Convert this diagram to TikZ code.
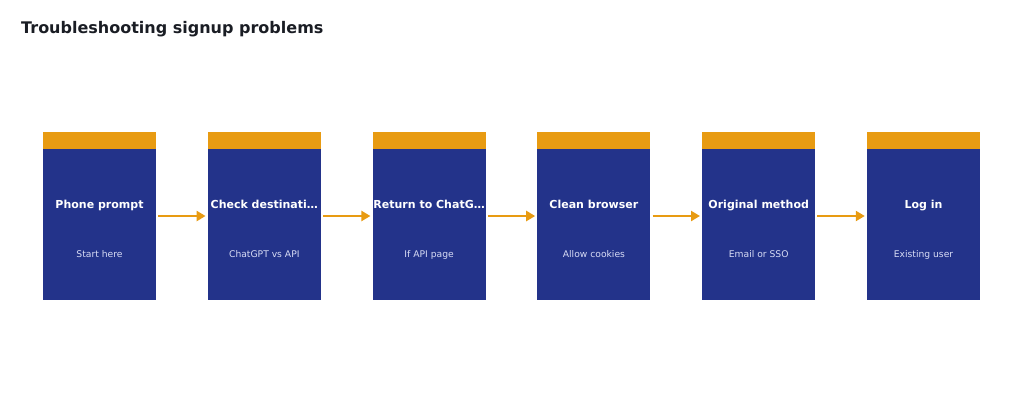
\documentclass[tikz,border=0pt]{standalone}
\usepackage{fontspec}
\setmainfont{DejaVu Sans}
\usetikzlibrary{arrows.meta}
\definecolor{navy}{HTML}{23338A}
\definecolor{amber}{HTML}{E89B12}
\definecolor{sub}{HTML}{D8DCF5}
\definecolor{ttl}{HTML}{1A1D24}
\begin{document}
\begin{tikzpicture}[x=1pt,y=-1pt,
  body/.style={fill=navy,draw=none,minimum width=113pt,minimum height=151pt,inner sep=0pt},
  topbar/.style={fill=amber,draw=none,minimum width=113pt,minimum height=17pt,inner sep=0pt},
  head/.style={text=white,anchor=base,inner sep=0pt,font=\bfseries\fontsize{11}{13}\selectfont},
  subt/.style={text=sub,anchor=base,inner sep=0pt,font=\fontsize{9.2}{11}\selectfont},
  arr/.style={draw=amber,line width=2.8pt,-{Triangle[length=9pt,width=10pt]}}]
\useasboundingbox (0,0) rectangle (1024,405);
\node[anchor=west,inner sep=0pt,text=ttl,font=\bfseries\fontsize{16}{19}\selectfont] (title) at (21,29.5) {Troubleshooting signup problems};
\foreach \i/\h/\s in {0/Phone prompt/Start here,1/Check destinati…/ChatGPT vs API,2/Return to ChatG…/If API page,3/Clean browser/Allow cookies,4/Original method/Email or SSO,5/Log in/Existing user}{
  \pgfmathsetmacro{\cx}{99.5+164.8*\i}
  \node[body] (b\i) at (\cx,224.5) {};
  \node[topbar] (c\i) at (\cx,140.5) {};
  \node[head] (h\i) at (\cx,208) {\h};
  \node[subt] (s\i) at (\cx,257.5) {\s};
}
\foreach \i [evaluate=\i as \j using int(\i+1)] in {0,...,4}{
  \draw[arr] ([xshift=2pt,yshift=8.5pt]b\i.east) -- ([xshift=-2pt,yshift=8.5pt]b\j.west);
}
\end{tikzpicture}
\end{document}
